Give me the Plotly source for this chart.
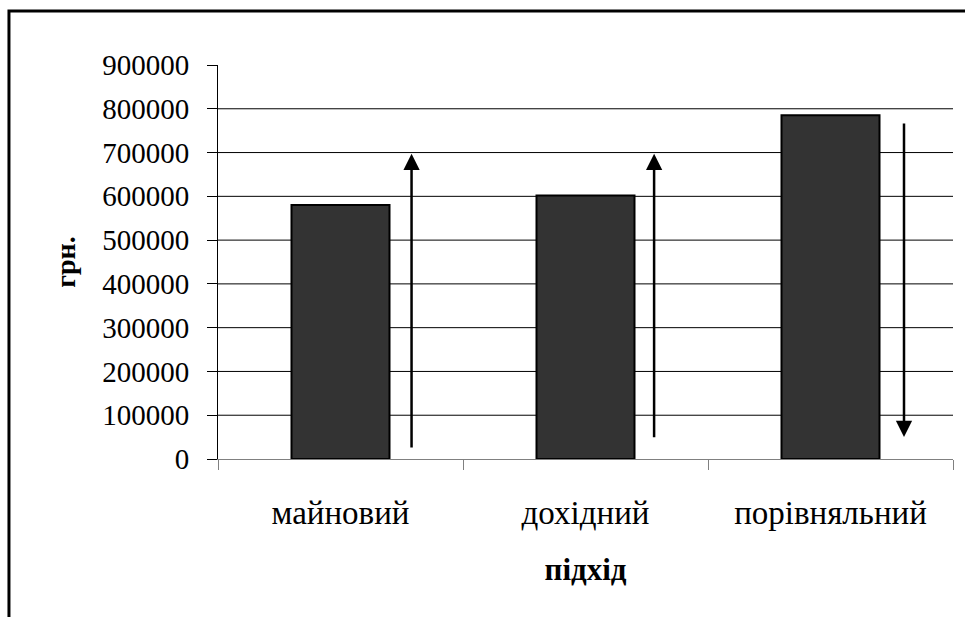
import plotly.graph_objects as go

# Valuation results by approach (UAH)
approaches = ["майновий", "дохідний", "порівняльний"]
values = [580000, 602000, 785000]

# Y axis ticks
y_ticks = [0, 100000, 200000, 300000, 400000, 500000, 600000, 700000, 800000, 900000]

# Direction arrows next to each bar: (x position in category units, start value, end value)
arrow_x = [0.29, 1.28, 2.30]
arrow_from = [23000, 46000, 770000]
arrow_to = [697000, 697000, 50000]

FONT = "Liberation Serif, Times New Roman, serif"

fig = go.Figure()
fig.add_trace(go.Bar(
    x=approaches,
    y=values,
    width=0.4,
    marker=dict(color="#333333", line=dict(color="#000000", width=2)),
    showlegend=False,
))

# horizontal gridlines (between axis line and top of range)
shapes = []
for v in y_ticks[1:-1]:
    shapes.append(dict(type="line", xref="paper", yref="y", x0=0, x1=1, y0=v, y1=v,
                       line=dict(color="#000000", width=1), layer="below"))

# outer frame
shapes.append(dict(type="rect", xref="paper", yref="paper",
                   x0=-0.2844, x1=1.2, y0=-0.5, y1=1.137,
                   line=dict(color="#000000", width=3), fillcolor="rgba(0,0,0,0)"))

annotations = []
for xa, y0, y1 in zip(arrow_x, arrow_from, arrow_to):
    annotations.append(dict(
        x=xa, y=y1, ax=xa, ay=y0, xref="x", yref="y", axref="x", ayref="y",
        text="", showarrow=True, arrowhead=2, arrowsize=1.3, arrowwidth=2.5,
        arrowcolor="#000000",
    ))

fig.update_layout(
    width=965, height=617,
    margin=dict(l=218, r=12, t=65, b=158),
    paper_bgcolor="white", plot_bgcolor="white",
    font=dict(family=FONT, size=29, color="#000000"),
    shapes=shapes,
    annotations=annotations,
    bargap=0.6,
)

fig.update_xaxes(
    type="category",
    tickson="boundaries",
    ticks="outside", ticklen=10, tickcolor="#808080", tickwidth=1,
    showline=True, linecolor="#808080", linewidth=1,
    showgrid=False,
    tickfont=dict(family=FONT, size=33),
    ticklabelstandoff=24,
    title=dict(text="<b>підхід</b>", font=dict(family=FONT, size=31), standoff=28),
)

fig.update_yaxes(
    range=[0, 900000],
    tickvals=y_ticks,
    ticktext=[str(v) for v in y_ticks],
    ticks="outside", ticklen=10, tickcolor="#000000", tickwidth=1,
    showline=True, linecolor="#000000", linewidth=1,
    showgrid=False, zeroline=False,
    tickfont=dict(family=FONT, size=29),
    ticklabelstandoff=12,
    title=dict(text="<b>грн.</b>", font=dict(family=FONT, size=28), standoff=18),
)

fig.write_html("out.html")
